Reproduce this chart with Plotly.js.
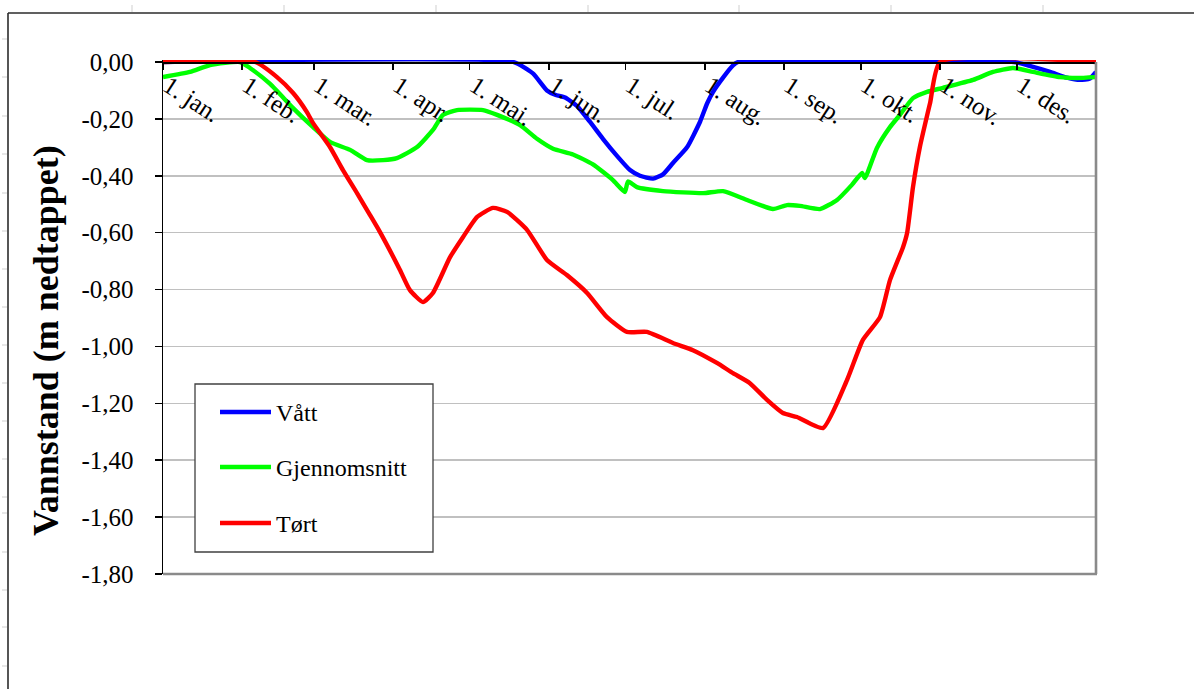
<!DOCTYPE html>
<html>
<head>
<meta charset="utf-8">
<script src="https://cdn.plot.ly/plotly-3.0.1.min.js"></script>
<style>
  html, body { margin: 0; padding: 0; background: #fff; }
  #chart { width: 1198px; height: 689px; }
</style>
</head>
<body>
<div id="chart"></div>
<script>
// Vannstand gjennom året (dag i året, 0 = 1. januar) for tre scenarier
const vattDag = [0, 137, 144.7, 150.2, 153.4, 157.3, 162, 167, 172.1, 177.6, 182.7, 186.6, 191.7, 195.6, 199.5, 205, 210.1, 212.9, 215.2, 219.1, 223, 225, 333, 339, 347, 353.6, 358.7, 362.6, 365];
const vattNivaa = [0, 0, -0.04, -0.10, -0.115, -0.125, -0.155, -0.21, -0.27, -0.33, -0.38, -0.40, -0.41, -0.395, -0.355, -0.30, -0.21, -0.145, -0.105, -0.055, -0.012, 0, 0, -0.014, -0.035, -0.055, -0.063, -0.058, -0.035];

const snittDag = [0, 10.6, 18.4, 30.1, 34.0, 41.9, 50.9, 58.7, 65.3, 73.2, 79.8, 86.1, 91.5, 99.4, 105.6, 109.5, 115.0, 125.2, 130.7, 139.7, 146.3, 152.6, 160.4, 168.2, 176.0, 180.7, 181.9, 185.4, 195.6, 211.3, 219.1, 228.5, 238.6, 244.1, 249.2, 257.0, 263.7, 269.5, 273.5, 274.6, 279.3, 284.4, 288.3, 293.4, 298.9, 305.1, 316.9, 324.7, 332.5, 340.4, 350.9, 357.6, 365];
const snittNivaa = [-0.053, -0.035, -0.011, 0, -0.021, -0.077, -0.162, -0.229, -0.281, -0.309, -0.345, -0.345, -0.338, -0.299, -0.239, -0.186, -0.169, -0.169, -0.186, -0.222, -0.27, -0.305, -0.325, -0.36, -0.415, -0.457, -0.42, -0.44, -0.454, -0.461, -0.454, -0.485, -0.517, -0.503, -0.506, -0.517, -0.485, -0.432, -0.39, -0.408, -0.302, -0.229, -0.186, -0.127, -0.105, -0.091, -0.063, -0.035, -0.021, -0.035, -0.053, -0.056, -0.053];

const tortDag = [0, 36.0, 44.6, 50.9, 56.3, 58.7, 65.3, 70.4, 75.9, 81.0, 84.9, 92.7, 96.6, 101.7, 105.6, 112.3, 117.4, 122.8, 129.1, 134.6, 142.4, 150.2, 158.0, 165.9, 173.7, 181.5, 189.3, 199.5, 207.3, 216.7, 223.0, 229.6, 236.3, 242.5, 248.0, 258.2, 267.6, 273.8, 280.5, 284.4, 289.5, 291.1, 293.4, 296.1, 300.1, 304.0, 365];
const tortNivaa = [0, 0, -0.053, -0.109, -0.176, -0.215, -0.299, -0.38, -0.461, -0.538, -0.598, -0.731, -0.802, -0.844, -0.812, -0.686, -0.615, -0.545, -0.513, -0.527, -0.59, -0.696, -0.749, -0.812, -0.897, -0.949, -0.949, -0.988, -1.013, -1.058, -1.094, -1.129, -1.188, -1.234, -1.248, -1.287, -1.118, -0.977, -0.897, -0.767, -0.651, -0.601, -0.44, -0.299, -0.144, 0, 0];

// Månedsstart (dag i året) og etiketter
const maanedDag = [0, 31, 59, 90, 120, 151, 181, 212, 243, 273, 304, 334, 365];
const maanedTekst = ['1. jan.', '1. feb.', '1. mar.', '1. apr.', '1. mai.', '1. jun.', '1. jul.', '1. aug.', '1. sep.', '1. okt.', '1. nov.', '1. des.', ''];

// Vannstandsakse
const nivaaVerdier = [0, -0.2, -0.4, -0.6, -0.8, -1.0, -1.2, -1.4, -1.6, -1.8];
const nivaaTekst = ['0,00', '-0,20', '-0,40', '-0,60', '-0,80', '-1,00', '-1,20', '-1,40', '-1,60', '-1,80'];

const serieNavn = ['Vått', 'Gjennomsnitt', 'Tørt'];
const serieFarge = ['#0000ff', '#00ff00', '#ff0000'];

const FONT = 'Liberation Serif, Times New Roman, serif';

// Plottområdet i piksler
const W = 1198, H = 689;
const PL = 163, PR = 1096, PT = 60, PB = 574;
const yTop = 2 / ((PB - 62) / 1.8);          // litt luft over 0 så linjene ikke klippes
const px = v => (v - PL) / (PR - PL);
const py = v => (PB - v) / (PB - PT);

const traces = [
  { x: vattDag, y: vattNivaa },
  { x: snittDag, y: snittNivaa },
  { x: tortDag, y: tortNivaa }
].map((d, i) => ({
  x: d.x, y: d.y, type: 'scatter', mode: 'lines', name: serieNavn[i],
  line: { color: serieFarge[i], width: 4.4, shape: 'spline', smoothing: 0.5 },
  showlegend: false, hoverinfo: 'skip'
}));

const shapes = [];
const annotations = [];
const paperLine = (x0, y0, x1, y1, color, width, layer) => shapes.push({
  type: 'line', xref: 'paper', yref: 'paper',
  x0: px(x0), y0: py(y0), x1: px(x1), y1: py(y1),
  line: { color: color, width: width }, layer: layer || 'above'
});

// Ramme rundt hele figuren
paperLine(8, 13, 1194, 13, '#2b2b2b', 1.6);
paperLine(8, 13, 8, 689, '#2b2b2b', 1.6);
// Små linjalmerker utenfor rammen
[132, 284, 436, 588, 739, 891, 1043].forEach(x => paperLine(x, 5, x, 12, '#cfcfcf', 1));
[39, 77, 116, 154, 193, 231, 269, 307, 345, 383, 421, 459, 497, 513, 552, 590, 627, 666].forEach(y => paperLine(2, y, 7, y, '#cfcfcf', 1));

// Grå kant høyre og nederst på plottområdet
paperLine(PR, 62, PR, PB, '#8a8a8a', 2.6);
paperLine(PL, PB, PR + 1, PB, '#8a8a8a', 2.6);

// Tegnforklaring
shapes.push({
  type: 'rect', xref: 'paper', yref: 'paper',
  x0: px(195), y0: py(384), x1: px(433), y1: py(552),
  line: { color: '#404040', width: 1.3 }, fillcolor: '#ffffff', layer: 'above'
});
const legendY = [412, 467, 523];
serieNavn.forEach((navn, i) => {
  paperLine(220, legendY[i], 271, legendY[i], serieFarge[i], 4.4);
  annotations.push({
    xref: 'paper', yref: 'paper', x: px(274), y: py(legendY[i] + 1),
    xanchor: 'left', yanchor: 'middle', showarrow: false, text: navn,
    font: { family: FONT, size: 24, color: '#000' }
  });
});

// Aksetittel
annotations.push({
  xref: 'paper', yref: 'paper', x: px(46), y: py(341),
  xanchor: 'center', yanchor: 'middle', showarrow: false, textangle: -90,
  text: '<b>Vannstand (m nedtappet)</b>',
  font: { family: FONT, size: 36, color: '#000' }
});

const layout = {
  width: W, height: H, autosize: false,
  margin: { l: PL, r: W - PR, t: PT, b: H - PB, pad: 0 },
  paper_bgcolor: '#ffffff', plot_bgcolor: '#ffffff',
  showlegend: false,
  font: { family: FONT, color: '#000' },
  xaxis: {
    range: [0, 365], anchor: 'free', position: 1.8 / (1.8 + yTop), side: 'bottom',
    tickmode: 'array', tickvals: maanedDag, ticktext: maanedTekst,
    tickangle: 33, tickfont: { family: FONT, size: 25, color: '#000' },
    ticklabelshift: 5, ticklabelstandoff: -8,
    ticks: 'outside', ticklen: 6, tickwidth: 1.5, tickcolor: '#000',
    showline: true, linecolor: '#000', linewidth: 1.5,
    showgrid: false, zeroline: false, fixedrange: true
  },
  yaxis: {
    range: [-1.8, yTop],
    tickmode: 'array', tickvals: nivaaVerdier, ticktext: nivaaTekst,
    tickfont: { family: FONT, size: 25, color: '#000' },
    ticks: 'outside', ticklen: 7, tickwidth: 1.5, tickcolor: '#000',
    ticklabelstandoff: 16,
    showline: true, linecolor: '#000', linewidth: 1.5,
    showgrid: true, gridcolor: '#c0c0c0', gridwidth: 1.6,
    zeroline: false, fixedrange: true
  },
  shapes: shapes,
  annotations: annotations
};

Plotly.newPlot('chart', traces, layout, { displayModeBar: false, staticPlot: true });
</script>
</body>
</html>
